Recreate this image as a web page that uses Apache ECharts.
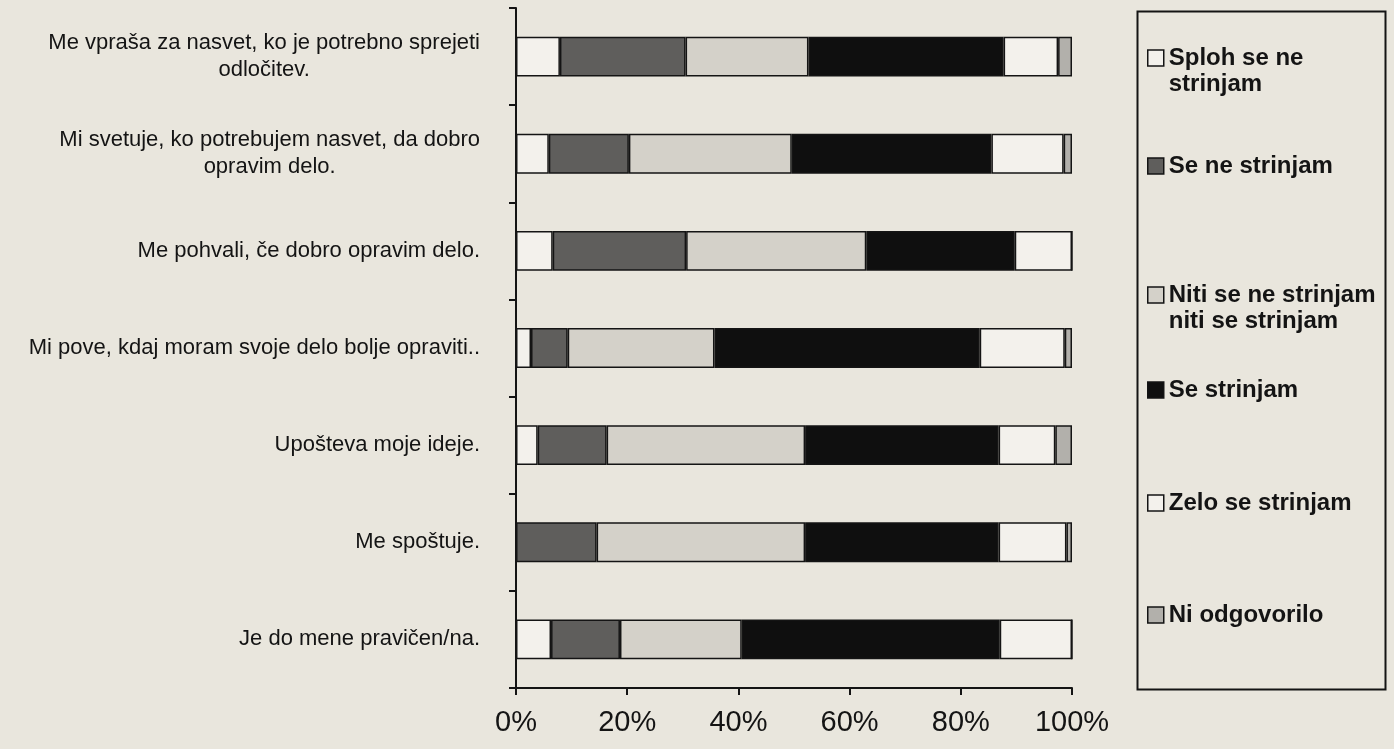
<!DOCTYPE html>
<html>
<head>
<meta charset="utf-8">
<title>Odnos nadrejenega</title>
<script src="https://cdn.jsdelivr.net/npm/echarts@6/dist/echarts.min.js"></script>
<style>
  html, body { margin: 0; padding: 0; background: #e9e6dd; }
  #chart { width: 1394px; height: 749px; }
</style>
</head>
<body>
<div id="chart"></div>
<script>
// Statements (top to bottom)
const categories = [
  'Me vpraša za nasvet, ko je potrebno sprejeti\nodločitev.',
  'Mi svetuje, ko potrebujem nasvet, da dobro\nopravim delo.',
  'Me pohvali, če dobro opravim delo.',
  'Mi pove, kdaj moram svoje delo bolje opraviti..',
  'Upošteva moje ideje.',
  'Me spoštuje.',
  'Je do mene pravičen/na.'
];

// Answer shares in percent, one value per statement
const splohSeNeStrinjam = [7.9, 5.9, 6.6, 2.7, 3.9, 0, 6.3];
const seNeStrinjam      = [22.6, 14.4, 24.0, 6.6, 12.4, 14.5, 12.4];
const nitiNitiStrinjam  = [22.1, 29.3, 32.4, 26.4, 35.7, 37.5, 21.9];
const seStrinjam        = [35.1, 35.9, 26.7, 47.7, 34.8, 34.8, 46.4];
const zeloSeStrinjam    = [9.8, 13.0, 10.3, 15.3, 10.2, 12.2, 13.0];
const niOdgovorilo      = [2.5, 1.5, 0, 1.3, 3.0, 1.0, 0];

const seriesNames = [
  'Sploh se ne\nstrinjam',
  'Se ne strinjam',
  'Niti se ne strinjam\nniti se strinjam',
  'Se strinjam',
  'Zelo se strinjam',
  'Ni odgovorilo'
];
const xTicks = [0, 20, 40, 60, 80, 100];

const seriesValues = [splohSeNeStrinjam, seNeStrinjam, nitiNitiStrinjam, seStrinjam, zeloSeStrinjam, niOdgovorilo];
const fills = ['#f3f1ec', '#5f5e5c', '#d4d1c9', '#0f0f0f', '#f3f1ec', '#b2b0ab'];
const ink = '#141414';
const font = '"Liberation Sans", Arial, Helvetica, sans-serif';

const chart = echarts.init(document.getElementById('chart'), null, { renderer: 'canvas' });

const series = seriesNames.map((name, i) => ({
  name: name,
  type: 'bar',
  stack: 'total',
  barWidth: '41%',
  data: seriesValues[i],
  itemStyle: { color: fills[i], borderColor: ink, borderWidth: 1.5 },
  emphasis: { disabled: true }
}));

// One legend block per entry; the swatch sits beside the first text line.
const legendCentres = [58, 166, 295, 390, 503, 615];
const legendLineHeight = 26;
const legends = seriesNames.map((name, i) => {
  const twoLine = name.indexOf('\n') >= 0;
  return {
    left: 1147,
    top: twoLine ? legendCentres[i] - 1.5 * legendLineHeight : legendCentres[i] - legendLineHeight / 2,
    padding: 0,
    icon: 'rect',
    itemWidth: 16,
    itemHeight: 16,
    itemGap: 5,
    selectedMode: false,
    itemStyle: { borderColor: ink, borderWidth: 1.5 },
    // a blank leading line keeps the swatch level with the first line of two-line names
    formatter: n => (n.indexOf('\n') >= 0 ? ' \n' + n : n),
    textStyle: {
      color: ink,
      fontFamily: font,
      fontWeight: 'bold',
      fontSize: 24,
      lineHeight: legendLineHeight
    },
    data: [name]
  };
});

const option = {
  backgroundColor: '#e9e6dd',
  animation: false,
  grid: { left: 516, right: 322, top: 8, bottom: 61, containLabel: false },
  legend: legends,
  graphic: [{
    type: 'rect',
    left: 1135,
    top: 9,
    shape: { width: 248, height: 678 },
    style: { fill: 'none', stroke: ink, lineWidth: 2 },
    silent: true
  }],
  xAxis: {
    type: 'value',
    min: xTicks[0],
    max: xTicks[xTicks.length - 1],
    interval: xTicks[1] - xTicks[0],
    splitLine: { show: false },
    axisLine: { show: true, lineStyle: { color: ink, width: 2 } },
    axisTick: { show: true, length: 7, lineStyle: { color: ink, width: 2 } },
    axisLabel: {
      color: ink,
      fontFamily: font,
      fontSize: 29,
      margin: 20,
      formatter: '{value}%'
    }
  },
  yAxis: {
    type: 'category',
    inverse: true,
    data: categories,
    axisLine: { show: true, lineStyle: { color: ink, width: 2 } },
    axisTick: { show: true, length: 7, lineStyle: { color: ink, width: 2 } },
    axisLabel: {
      align: 'right',
      margin: 36,
      color: ink,
      fontFamily: font,
      fontSize: 22,
      lineHeight: 27,
      formatter: v => v.split('\n').map(l => '{c|' + l + '}').join('\n'),
      rich: {
        c: { align: 'center', color: ink, fontFamily: font, fontSize: 22, lineHeight: 27 }
      }
    }
  },
  series: series
};

chart.setOption(option);
</script>
</body>
</html>
